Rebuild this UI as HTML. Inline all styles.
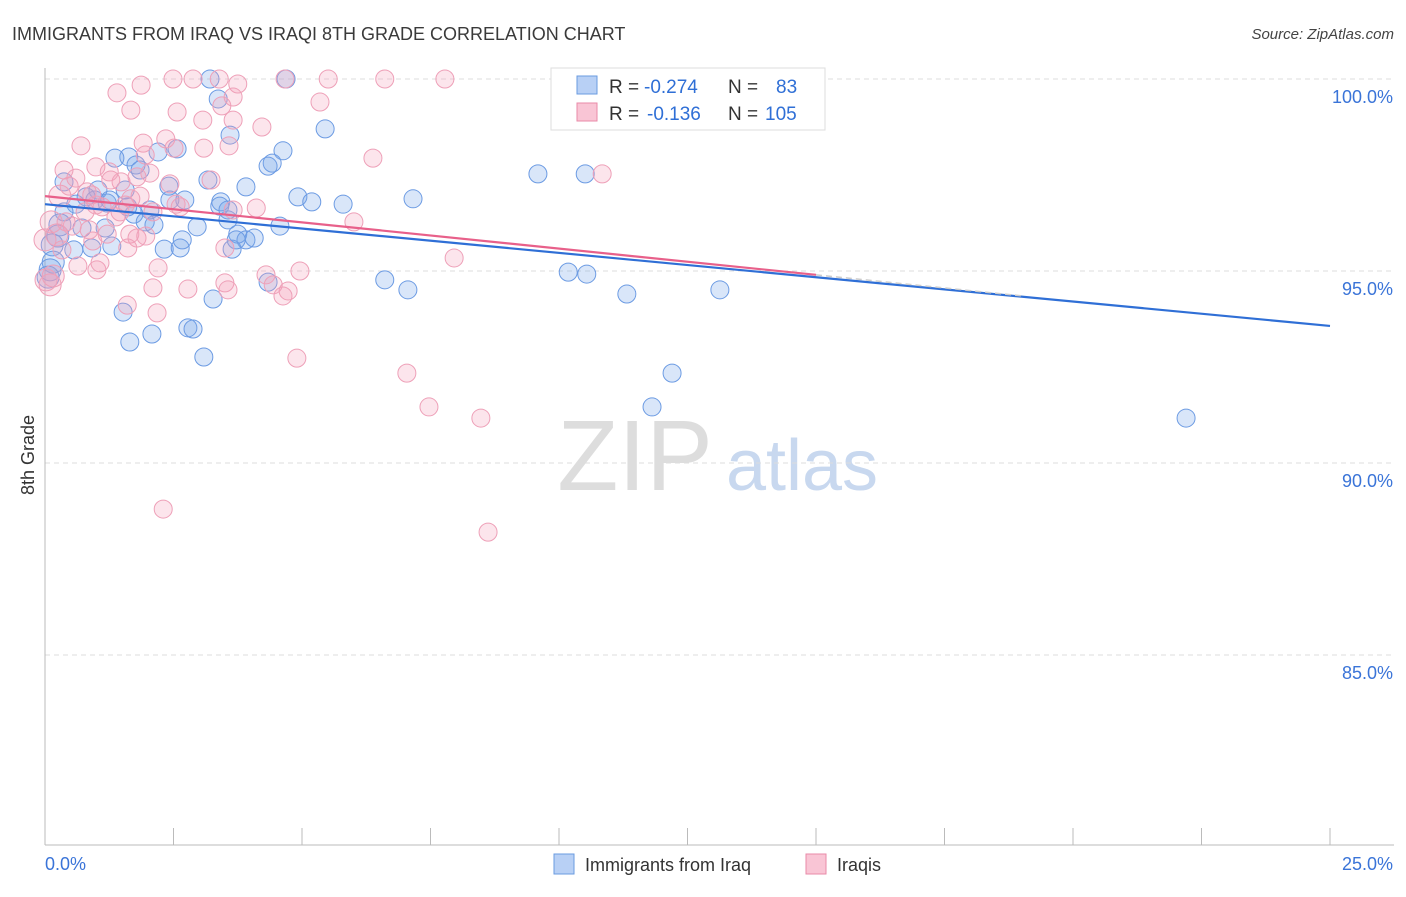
<!DOCTYPE html>
<html><head><meta charset="utf-8"><style>
body{margin:0;background:#fff;font-family:"Liberation Sans",sans-serif;}
svg text{font-family:"Liberation Sans",sans-serif;}
</style></head><body>
<svg id="chart" width="1406" height="892" viewBox="0 0 1406 892" xmlns="http://www.w3.org/2000/svg">
<text x="12" y="40" font-size="18" fill="#3a3a3a">IMMIGRANTS FROM IRAQ VS IRAQI 8TH GRADE CORRELATION CHART</text>
<text x="1394" y="39" font-size="15" fill="#444" text-anchor="end" font-style="italic">Source: ZipAtlas.com</text>
<g>
<text x="635" y="490" font-size="100" fill="#ddd" text-anchor="middle" font-family="Liberation Serif">ZIP</text>
<text x="802" y="490" font-size="72" fill="#c8d8ef" text-anchor="middle">atlas</text>
</g>
<g id="grid"></g>
<g id="axes"></g>
<g id="points"></g>
<g id="trends"></g>
<text transform="translate(34,455) rotate(-90)" font-size="18" fill="#333" text-anchor="middle">8th Grade</text>
<g>
<rect x="551" y="68" width="274" height="62" fill="#fff" stroke="#ddd"/>
<rect x="577" y="76" width="20" height="18" fill="#b8d0f5" stroke="#6a9be0"/>
<text x="609" y="93" font-size="19" fill="#333">R =</text>
<text x="644" y="93" font-size="19" fill="#2f6fd6">-0.274</text>
<text x="728" y="93" font-size="19" fill="#333">N =</text>
<text x="776" y="93" font-size="19" fill="#2f6fd6">83</text>
<rect x="577" y="103" width="20" height="18" fill="#f9c5d5" stroke="#e98aa8"/>
<text x="609" y="120" font-size="19" fill="#333">R =</text>
<text x="647" y="120" font-size="19" fill="#2f6fd6">-0.136</text>
<text x="728" y="120" font-size="19" fill="#333">N =</text>
<text x="765" y="120" font-size="19" fill="#2f6fd6">105</text>
</g>
<g>
<rect x="554" y="854" width="20" height="20" fill="#b8d0f5" stroke="#6a9be0"/>
<text x="585" y="871" font-size="18" fill="#333">Immigrants from Iraq</text>
<rect x="806" y="854" width="20" height="20" fill="#f9c5d5" stroke="#e98aa8"/>
<text x="837" y="871" font-size="18" fill="#333">Iraqis</text>
</g>
</svg>
<script>
const yTicks=[85,90,95,100];
const yTickLabels=["85.0%","90.0%","95.0%","100.0%"];
const xTickLabels=["0.0%","25.0%"];
const blueX=[3.21,4.69,14.07,3.37,3.60,5.45,2.57,2.20,1.63,1.36,1.77,4.63,4.42,4.34,9.59,10.51,3.17,3.91,2.41,0.37,1.03,0.80,4.92,5.19,5.80,7.16,3.42,2.72,3.56,2.96,4.57,2.04,1.73,1.95,2.12,1.21,0.97,0.60,0.37,0.25,0.14,0.16,0.56,0.91,1.30,2.32,2.63,2.67,3.75,3.91,4.07,3.64,3.72,4.34,6.61,7.06,10.18,10.54,11.32,13.13,3.27,1.52,1.65,2.08,2.78,2.88,3.09,12.20,11.81,22.20,0.10,0.06,0.72,1.17,1.26,1.61,2.43,3.40,3.56,1.85,1.56,0.29];
const blueY=[100,100,100,99.48,98.54,98.70,98.18,98.10,97.97,97.94,97.76,98.13,97.81,97.73,97.53,97.53,97.37,97.19,97.21,97.32,97.11,96.93,96.93,96.80,96.74,96.88,96.80,96.85,96.33,96.15,96.17,96.59,96.48,96.28,96.20,96.77,96.85,96.74,96.54,95.91,95.68,95.23,95.55,95.60,95.65,95.57,95.60,95.81,95.96,95.81,95.86,95.57,95.81,94.71,94.77,94.51,94.97,94.92,94.40,94.51,94.27,93.93,93.15,93.36,93.52,93.49,92.76,92.34,91.46,91.17,95.03,94.84,96.12,96.12,96.85,96.67,96.85,96.69,96.59,97.63,97.11,96.20];
const pinkX=[2.49,2.88,3.39,4.67,5.51,6.61,7.78,3.75,1.40,1.87,3.44,1.67,2.57,3.66,4.22,3.07,0.70,1.91,2.35,3.58,3.09,2.51,1.95,6.38,10.84,0.99,1.25,1.48,1.79,2.04,2.43,3.23,0.47,0.82,0.29,1.11,1.56,2.10,2.55,2.63,4.11,6.01,0.12,0.23,0.86,1.65,1.79,0.00,0.41,0.93,1.61,0.64,1.01,2.20,0.02,0.10,0.16,4.30,4.44,4.96,4.73,3.50,3.56,4.63,2.78,2.10,1.60,2.18,7.96,4.90,7.04,7.47,8.48,2.30,8.62,5.35,3.66,0.99,1.38,0.53,1.21,1.85,1.46,0.78,0.33,1.96,3.66,3.50,1.28,0.60,0.91,0.37,1.07,1.67];
const pinkY=[100,100,100,100,100,100,100,99.87,99.64,99.84,99.30,99.19,99.14,98.93,98.75,98.93,98.26,98.33,98.44,98.26,98.20,98.20,98.02,97.94,97.53,97.71,97.58,97.32,97.45,97.55,97.27,97.37,97.21,97.06,96.95,96.67,96.72,96.54,96.74,96.67,96.64,96.28,96.28,95.94,96.07,95.96,95.86,95.81,96.28,95.78,95.60,95.13,95.03,95.08,94.77,94.64,94.87,94.90,94.64,95.00,94.48,94.69,94.51,94.35,94.53,94.56,94.11,93.91,95.34,92.73,92.34,91.46,91.17,88.80,88.20,99.40,99.53,96.72,96.41,96.17,95.96,96.95,96.54,96.54,95.55,95.91,96.59,95.60,97.37,97.42,96.98,97.63,95.21,96.88];
const blueTrend=[[0,96.74],[25,93.57]];
const pinkTrend=[[0,96.95],[15,94.90]];
const NS="http://www.w3.org/2000/svg";
const X=v=>45+v*(1285/25);
const Y=v=>79+(100-v)*38.4;
function mk(parent,tag,attrs){const e=document.createElementNS(NS,tag);for(const k in attrs)e.setAttribute(k,attrs[k]);document.getElementById(parent).appendChild(e);return e;}
yTicks.forEach((t,i)=>{
 const l=mk('grid','line',{x1:45,x2:1394,y1:Y(t),y2:Y(t),stroke:'#ddd','stroke-dasharray':'5,4'});
 
 
 const tx=mk('grid','text',{x:1393,y:Y(t)+24,'font-size':18,fill:'#3a74d8','text-anchor':'end'});
 tx.textContent=yTickLabels[i];
 
 
});
const ax=mk('axes','line',{x1:45,x2:45,y1:68,y2:845,stroke:'#bbb'});


const bx=mk('axes','line',{x1:45,x2:1394,y1:845,y2:845,stroke:'#bbb'});


for(let i=0;i<=10;i++){const t=mk('axes','line',{x1:X(i*2.5),x2:X(i*2.5),y1:828,y2:845,stroke:'#bbb'});
 
 }
[[0,'start',45],[1,'end',1393]].forEach(([i,a,x])=>{const t=mk('axes','text',{x:x,y:870,'font-size':18,fill:'#3a74d8','text-anchor':a});t.textContent=xTickLabels[i];
 
 });
function pts(xs,ys,fill,stroke,name){xs.forEach((v,i)=>{const r=v<0.3?11:9;
 const c=mk('points','circle',{cx:X(v),cy:Y(ys[i]),r:r,fill:fill,stroke:stroke,'stroke-width':1});
 
 });}
pts(blueX,blueY,'rgba(120,165,235,0.28)','#6c9be3','iraq-point');
pts(pinkX,pinkY,'rgba(245,160,185,0.28)','#eea0b8','iraqi-point');
const bl=mk('trends','line',{x1:X(blueTrend[0][0]),y1:Y(blueTrend[0][1]),x2:X(blueTrend[1][0]),y2:Y(blueTrend[1][1]),stroke:'#2f6fd6','stroke-width':2.2});


const pd=mk('trends','line',{x1:X(pinkTrend[1][0]),y1:Y(pinkTrend[1][1]),x2:X(19),y2:Y(pinkTrend[0][1]+(pinkTrend[1][1]-pinkTrend[0][1])*19/15),stroke:'#ccc','stroke-width':1.5,'stroke-dasharray':'6,4'});


const pl=mk('trends','line',{x1:X(pinkTrend[0][0]),y1:Y(pinkTrend[0][1]),x2:X(pinkTrend[1][0]),y2:Y(pinkTrend[1][1]),stroke:'#e8608a','stroke-width':2.2});


</script>
</body></html>
